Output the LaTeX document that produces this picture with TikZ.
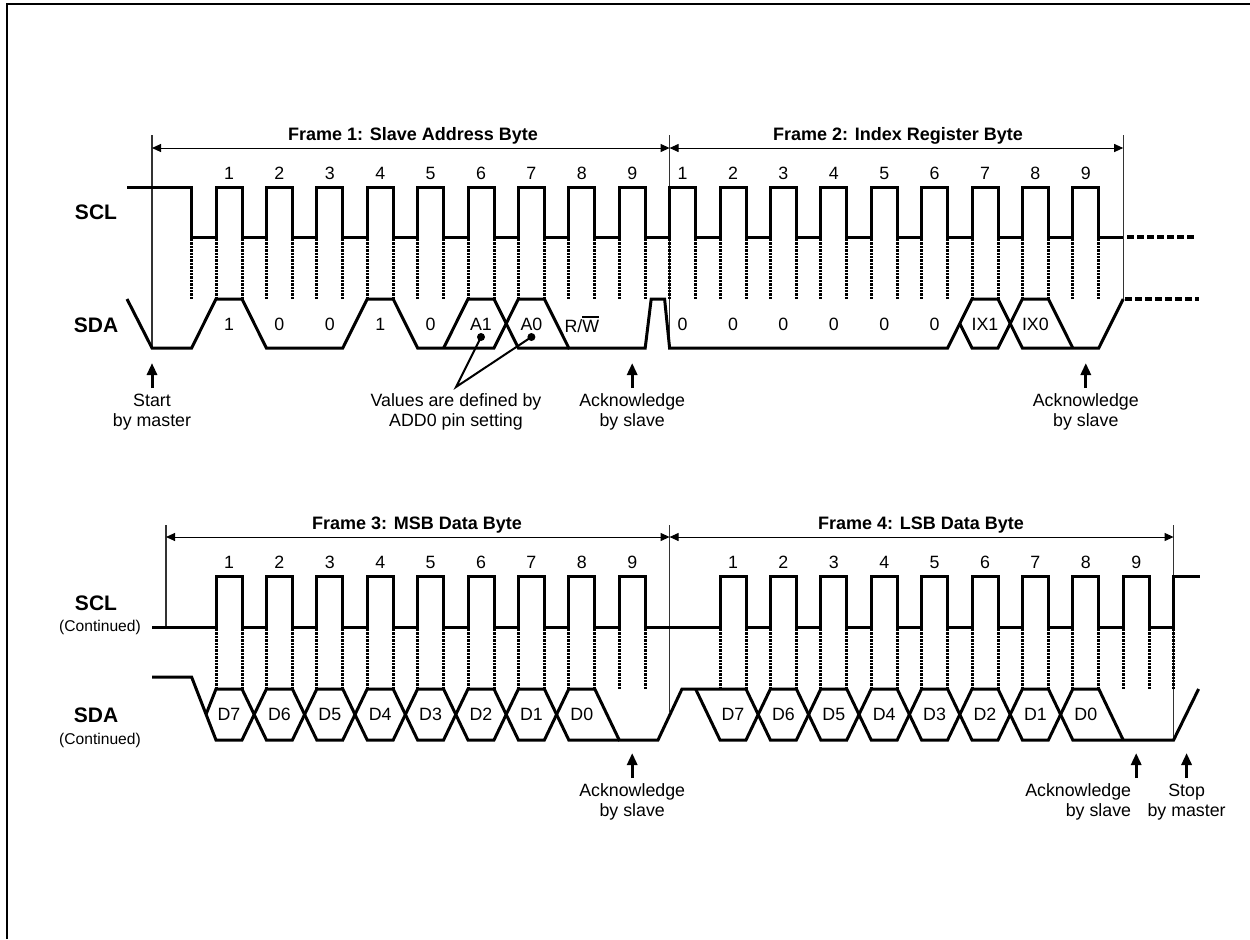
\documentclass[tikz,border=0pt]{standalone}
\usepackage{fontspec}
\setmainfont{Liberation Sans}
\usetikzlibrary{arrows.meta}
\newcommand\Pk[1]{(216+50.4*(#1-1))}
\newcommand\Ek[1]{(242+50.4*(#1-1))}
\newcommand\barW{\setbox0\hbox{W}\rlap{\rule[\dimexpr\ht0+0.9pt\relax]{\wd0}{1.1pt}}\box0}
\begin{document}
\begin{tikzpicture}[x=0.5pt,y=-0.5pt,
 sig/.style={line width=1.5pt},
 dotv/.style={line width=1.5pt,dash pattern=on 1.2pt off 0.5pt},
 cont/.style={line width=2pt,dash pattern=on 3.5pt off 1.5pt},
 frameln/.style={line width=0.55pt,black!80},
 span/.style={line width=0.5pt,{Triangle[length=4.5pt,width=4pt]}-{Triangle[length=4.5pt,width=4pt]}},
 up/.style={line width=1.5pt,-{Triangle[length=6pt,width=5pt]}},
 ttl/.style={font=\fontsize{9}{10}\selectfont\bfseries},
 lbl/.style={font=\fontsize{8.9}{10}\selectfont},
 small/.style={font=\fontsize{7.8}{9}\selectfont},
 signame/.style={font=\fontsize{10.5}{12}\selectfont\bfseries},
 note/.style={font=\fontsize{8.9}{10}\selectfont,align=center},
]
\useasboundingbox (0,0) rectangle (1250,939);
% border
\draw[line width=1pt] (7,939) -- (7,4) -- (1250,4);

% ================= TOP =================
\node[signame] (sclA) at (96,212) {SCL};
\node[signame] (sdaA) at (96,325) {SDA};

\draw[frameln] (152,135) -- (152,348);
\draw[frameln] ({\Pk{10}},135) -- ({\Pk{10}},348);
\draw[frameln] ({\Pk{19}},135) -- ({\Pk{19}},299);
\coordinate (f1a) at (152,148);
\coordinate (f1b) at ({\Pk{10}},148);
\coordinate (f2b) at ({\Pk{19}},148);
\draw[span] (f1a) -- (f1b);
\draw[span] (f1b) -- (f2b);
\node[ttl] (t1) at (413,136) {Frame 1: Slave Address Byte};
\node[ttl] (t2) at (898,136) {Frame 2: Index Register Byte};

\foreach \k in {1,...,9} \node[lbl] (na\k) at ({\Pk{\k}+13},173) {\k};
\foreach \k [evaluate=\k as \n using int(\k-9)] in {10,...,18} \node[lbl] (na\k) at ({\Pk{\k}+13},173) {\n};

% SCL
\draw[sig] (127,187) -- ({\Ek{0}},187) -- ({\Ek{0}},237)
  \foreach \k in {1,...,18}{ -- ({\Pk{\k}},237) -- ({\Pk{\k}},187) -- ({\Ek{\k}},187) -- ({\Ek{\k}},237)}
  -- ({\Pk{19}},237);
\draw[cont] (1127,237) -- (1196,237);
% dotted
\draw[dotv] ({\Ek{0}},239) -- ({\Ek{0}},299);
\foreach \k in {1,...,18}{
  \draw[dotv] ({\Pk{\k}},239) -- ({\Pk{\k}},299);
  \draw[dotv] ({\Ek{\k}},239) -- ({\Ek{\k}},299);}
% SDA
\draw[sig] (127,299) -- (152,348) -- ({\Ek{0}},348) -- ({\Pk{1}},299) -- ({\Ek{1}},299)
  -- ({\Pk{2}},348) -- ({\Ek{3}},348) -- ({\Pk{4}},299) -- ({\Ek{4}},299)
  -- ({\Pk{5}},348) -- ({\Ek{6}},348) -- ({\Pk{7}},299) -- ({\Ek{7}},299)
  -- ({\Pk{8}},348) -- ({\Ek{9}},348) -- ({\Ek{9}+6},299) -- ({\Pk{10}-5},299)
  -- ({\Pk{10}},348) -- ({\Ek{15}},348) -- ({\Pk{16}},299) -- ({\Ek{16}},299)
  -- ({\Pk{17}},348) -- ({\Ek{18}},348) -- ({\Pk{19}},299);
\draw[sig] ({\Ek{5}},348) -- ({\Pk{6}},299) -- ({\Ek{6}},299) -- ({\Pk{7}},348) -- ({\Pk{8}},348);
\draw[sig] ({(\Ek{15}+\Pk{16})/2},323.5) -- ({\Pk{16}},348) -- ({\Ek{16}},348)
  -- ({\Pk{17}},299) -- ({\Ek{17}},299) -- ({\Pk{18}},348);
\draw[cont] (1125,299) -- (1199,299);

\foreach \k/\t in {1/1,2/0,3/0,4/1,5/0,6/A1,7/A0,10/0,11/0,12/0,13/0,14/0,15/0,16/IX1,17/IX0}
  \node[lbl] (ba\k) at ({\Pk{\k}+13},324) {\t};
\node[lbl] (ba8) at ({\Pk{8}+13},324) {R/\barW};

% notes top
\coordinate (stA) at (152,388); \coordinate (stB) at (152,363);
\draw[up] (stA) -- (stB);
\node[note] (stL) at (152,412) {Start\\by master};

\coordinate (dA1) at ({\Pk{6}+13},337);
\coordinate (dA0) at ({\Pk{7}+13},337);
\coordinate (vj) at (456,387);
\fill (dA1) circle[radius=2pt];
\fill (dA0) circle[radius=2pt];
\draw[line width=1pt] (dA1) -- (vj) -- (dA0);
\node[note] (vals) at (456,412) {Values are defined by\\ADD0 pin setting};

\coordinate (ak1A) at ({\Pk{9}+13},388); \coordinate (ak1B) at ({\Pk{9}+13},363);
\draw[up] (ak1A) -- (ak1B);
\node[note] (ak1L) at ({\Pk{9}+13},412) {Acknowledge\\by slave};

\coordinate (ak2A) at ({\Pk{18}+13},388); \coordinate (ak2B) at ({\Pk{18}+13},363);
\draw[up] (ak2A) -- (ak2B);
\node[note] (ak2L) at ({\Pk{18}+13},412) {Acknowledge\\by slave};

% ================= BOTTOM =================
\node[signame] (sclB) at (96,603) {SCL};
\node[small] (sclBc) at (100,627) {(Continued)};
\node[signame] (sdaB) at (96,715) {SDA};
\node[small] (sdaBc) at (100,740) {(Continued)};

\draw[frameln] (166,525) -- (166,627);
\draw[frameln] ({\Pk{10}},525) -- ({\Pk{10}},712);
\draw[frameln] ({\Pk{20}},525) -- ({\Pk{20}},740);
\coordinate (f3a) at (166,537);
\coordinate (f3b) at ({\Pk{10}},537);
\coordinate (f4b) at ({\Pk{20}},537);
\draw[span] (f3a) -- (f3b);
\draw[span] (f3b) -- (f4b);
\node[ttl] (t3) at (417,525) {Frame 3: MSB Data Byte};
\node[ttl] (t4) at (921,525) {Frame 4: LSB Data Byte};

\foreach \k in {1,...,9} \node[lbl] (nb\k) at ({\Pk{\k}+13},562) {\k};
\foreach \k [evaluate=\k as \n using int(\k-10)] in {11,...,19} \node[lbl] (nb\k) at ({\Pk{\k}+13},562) {\n};

% SCL
\draw[sig] (152,627)
  \foreach \k in {1,...,9}{ -- ({\Pk{\k}},627) -- ({\Pk{\k}},576) -- ({\Ek{\k}},576) -- ({\Ek{\k}},627)}
  \foreach \k in {11,...,19}{ -- ({\Pk{\k}},627) -- ({\Pk{\k}},576) -- ({\Ek{\k}},576) -- ({\Ek{\k}},627)}
  -- ({\Pk{20}},627) -- ({\Pk{20}},576) -- (1200,576);
\foreach \k in {1,...,9,11,12,...,19}{
  \draw[dotv] ({\Pk{\k}},629) -- ({\Pk{\k}},689);
  \draw[dotv] ({\Ek{\k}},629) -- ({\Ek{\k}},689);}
\draw[dotv] ({\Pk{20}},629) -- ({\Pk{20}},689);

% SDA
\draw[sig] (152,677) -- ({\Ek{0}},677)
  \foreach \k/\y in {1/740,2/689,3/740,4/689,5/740,6/689,7/740,8/689}{ -- ({\Pk{\k}},\y) -- ({\Ek{\k}},\y)}
  -- ({\Pk{9}},740) -- (658,740) -- (682,689) -- ({\Ek{10}},689)
  \foreach \k/\y in {11/689,12/740,13/689,14/740,15/689,16/740,17/689,18/740}{ -- ({\Pk{\k}},\y) -- ({\Ek{\k}},\y)}
  -- ({\Pk{20}},740) -- ({\Pk{20}+25},689);
\draw[sig] (206,714.5)
  \foreach \k/\y in {1/689,2/740,3/689,4/740,5/689,6/740,7/689,8/740}{ -- ({\Pk{\k}},\y) -- ({\Ek{\k}},\y)}
  -- ({\Pk{9}},740);
\draw[sig] ({\Ek{10}},689)
  \foreach \k/\y in {11/740,12/689,13/740,14/689,15/740,16/689,17/740,18/689}{ -- ({\Pk{\k}},\y) -- ({\Ek{\k}},\y)}
  -- ({\Pk{19}},740);

\foreach \k/\t in {1/D7,2/D6,3/D5,4/D4,5/D3,6/D2,7/D1,8/D0,11/D7,12/D6,13/D5,14/D4,15/D3,16/D2,17/D1,18/D0}
  \node[lbl] (bb\k) at ({\Pk{\k}+13},714.5) {\t};

\coordinate (ak3A) at ({\Pk{9}+13},778); \coordinate (ak3B) at ({\Pk{9}+13},753);
\draw[up] (ak3A) -- (ak3B);
\node[note] (ak3L) at ({\Pk{9}+13},802) {Acknowledge\\by slave};

\coordinate (ak4A) at ({\Pk{19}+13},778); \coordinate (ak4B) at ({\Pk{19}+13},753);
\draw[up] (ak4A) -- (ak4B);
\node[note,align=right,anchor=east] (ak4L) at ({\Pk{19}+15},802) {Acknowledge\\by slave};

\coordinate (spA) at ({\Pk{20}+13},778); \coordinate (spB) at ({\Pk{20}+13},753);
\draw[up] (spA) -- (spB);
\node[note] (spL) at ({\Pk{20}+13},802) {Stop\\by master};
\end{tikzpicture}
\end{document}
